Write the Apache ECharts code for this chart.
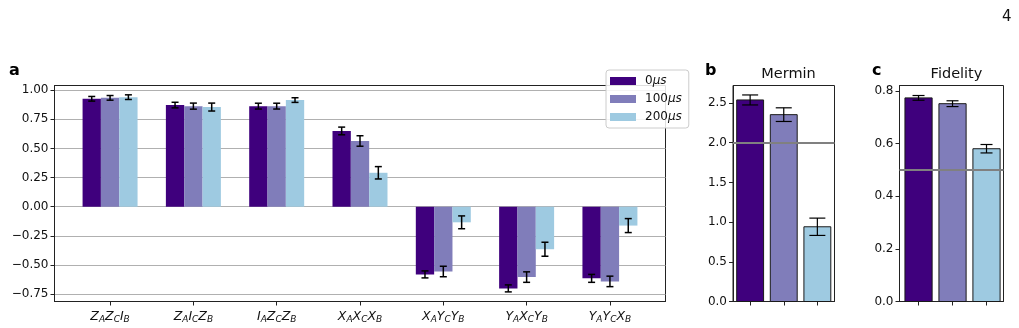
<!DOCTYPE html>
<html>
<head>
<meta charset="utf-8">
<script src="https://cdn.jsdelivr.net/npm/echarts@6/dist/echarts.min.js"></script>
<style>
  html, body { margin: 0; padding: 0; background: #fff; }
  #chart { width: 1019px; height: 328px; }
</style>
</head>
<body>
<div id="chart"></div>
<script>
// correlators, panel a
var correlators = ['Z_A Z_C I_B', 'Z_A I_C Z_B', 'I_A Z_C Z_B', 'X_A X_C X_B', 'X_A Y_C Y_B', 'Y_A X_C Y_B', 'Y_A Y_C X_B'];
var delays = ['0μs', '100μs', '200μs'];
var corr0 = [0.926, 0.872, 0.863, 0.650, -0.581, -0.701, -0.615];
var corr100 = [0.934, 0.863, 0.863, 0.564, -0.556, -0.604, -0.641];
var corr200 = [0.940, 0.855, 0.915, 0.291, -0.134, -0.365, -0.162];
var err0 = [0.020, 0.024, 0.025, 0.033, 0.030, 0.030, 0.034];
var err100 = [0.020, 0.026, 0.025, 0.045, 0.045, 0.045, 0.045];
var err200 = [0.020, 0.034, 0.020, 0.053, 0.055, 0.060, 0.060];
var aTicks = [-0.75, -0.5, -0.25, 0, 0.25, 0.5, 0.75, 1.0];

// panel b, c
var mermin = [2.538, 2.353, 0.941];
var merminErr = [0.063, 0.086, 0.109];
var merminBound = 2.0;
var merminTicks = [0, 0.5, 1.0, 1.5, 2.0, 2.5];
var fidelity = [0.773, 0.751, 0.580];
var fidelityErr = [0.009, 0.011, 0.016];
var fidelityBound = 0.5;
var fidelityTicks = [0, 0.2, 0.4, 0.6, 0.8];

var colors = ['#3f007d', '#807dba', '#9ecae1'];
var FONT = 'DejaVu Sans';

function richLabel(txt) {
    return txt.split(' ').map(function (p) {
        var t = p.split('_');
        return '{v|' + t[0] + '}{s|' + t[1] + '}';
    }).join('');
}

function fmt(dec) {
    return function (v) {
        var s = Math.abs(v).toFixed(dec);
        return v < -1e-9 ? '\u2212' + s : s;
    };
}

function barRender(offset, width, cap, lw, edge) {
    return function (params, api) {
        var i = api.value(0);
        var x = i + offset, v = api.value(1), e = api.value(2);
        var p0 = api.coord([x - width / 2, v]);
        var p1 = api.coord([x + width / 2, 0]);
        var hi = api.coord([x, v + e]);
        var lo = api.coord([x, v - e]);
        var fill = edge ? colors[i] : api.visual('color');
        return {
            type: 'group',
            children: [
                { type: 'rect', shape: { x: p0[0], y: Math.min(p0[1], p1[1]), width: p1[0] - p0[0], height: Math.abs(p1[1] - p0[1]) },
                  style: { fill: fill, stroke: edge ? '#1a1a1a' : null, lineWidth: edge ? 1 : 0 } },
                { type: 'line', shape: { x1: hi[0], y1: hi[1], x2: lo[0], y2: lo[1] }, style: { stroke: '#000', lineWidth: lw } },
                { type: 'line', shape: { x1: hi[0] - cap / 2, y1: hi[1], x2: hi[0] + cap / 2, y2: hi[1] }, style: { stroke: '#000', lineWidth: lw } },
                { type: 'line', shape: { x1: lo[0] - cap / 2, y1: lo[1], x2: lo[0] + cap / 2, y2: lo[1] }, style: { stroke: '#000', lineWidth: lw } }
            ]
        };
    };
}

var chart = echarts.init(document.getElementById('chart'), null, { renderer: 'canvas' });

var axisText = { color: '#111', fontFamily: FONT, fontSize: 12 };
var frame = { show: true, borderColor: '#222', borderWidth: 1, backgroundColor: 'transparent' };

function yAxisFor(idx, min, max, ticks, dec, grid) {
    return {
        type: 'value', gridIndex: idx, min: min, max: max,
        axisLine: { show: true, onZero: false, lineStyle: { color: '#222' } },
        axisTick: { show: true, length: 4, lineStyle: { color: '#222' }, customValues: ticks },
        axisLabel: Object.assign({ margin: 6, formatter: fmt(dec), customValues: ticks }, axisText),
        splitLine: { show: grid, lineStyle: { color: '#b0b0b0', width: 1 } }
    };
}

function xAxisFor(idx, min, max, ticks, labels) {
    return {
        type: 'value', gridIndex: idx, min: min, max: max,
        axisLine: { show: true, onZero: false, lineStyle: { color: '#222' } },
        axisTick: { show: true, length: 4, lineStyle: { color: '#222' }, customValues: ticks },
        axisLabel: labels ? {
            show: true, margin: 7, customValues: ticks,
            formatter: function (v) { return richLabel(correlators[Math.round(v)]); },
            rich: {
                v: { fontFamily: FONT, fontStyle: 'italic', fontSize: 12.5, color: '#111' },
                s: { fontFamily: FONT, fontStyle: 'italic', fontSize: 9, color: '#111', padding: [7, 0, 0, 0] }
            }
        } : { show: false },
        splitLine: { show: false }
    };
}

var corrSeries = [[corr0, err0], [corr100, err100], [corr200, err200]].map(function (d, k) {
    return {
        type: 'custom', name: delays[k], xAxisIndex: 0, yAxisIndex: 0,
        itemStyle: { color: colors[k] },
        renderItem: barRender((k - 1) * 0.22, 0.22, 7, 1.5, false),
        data: d[0].map(function (v, i) { return [i, v, d[1][i]]; }),
        z: 2
    };
});

var option = {
    animation: false,
    backgroundColor: '#fff',
    title: [
        { text: '4', left: 997, top: 5, textStyle: { fontFamily: FONT, fontSize: 15, fontWeight: 'normal', color: '#111' } },
        { text: 'a', left: 4, top: 58, textStyle: { fontFamily: FONT, fontSize: 16, fontWeight: 'bold', color: '#000' } },
        { text: 'b', left: 700, top: 58, textStyle: { fontFamily: FONT, fontSize: 16, fontWeight: 'bold', color: '#000' } },
        { text: 'c', left: 867, top: 58, textStyle: { fontFamily: FONT, fontSize: 16, fontWeight: 'bold', color: '#000' } },
        { text: 'Mermin', left: 783.5, textAlign: 'center', top: 62, textStyle: { fontFamily: FONT, fontSize: 14.5, fontWeight: 'normal', color: '#111' } },
        { text: 'Fidelity', left: 951.5, textAlign: 'center', top: 62, textStyle: { fontFamily: FONT, fontSize: 14.5, fontWeight: 'normal', color: '#111' } }
    ],
    legend: {
        orient: 'vertical', left: 606, top: 70,
        data: delays.map(function (n) { return { name: n, icon: 'rect' }; }),
        itemWidth: 26, itemHeight: 8, itemGap: 6,
        padding: [5, 7, 5, 4],
        backgroundColor: 'rgba(255,255,255,0.85)', borderColor: '#cccccc', borderWidth: 1, borderRadius: 3,
        formatter: function (n) { return '{n|' + n.replace('μs', '') + '}{m|μs}'; },
        textStyle: {
            padding: [0, 0, 0, 4],
            rich: {
                n: { fontFamily: FONT, fontSize: 12, color: '#111' },
                m: { fontFamily: FONT, fontSize: 12, fontStyle: 'italic', color: '#111' }
            }
        },
        z: 10
    },
    grid: [
        Object.assign({ left: 54.5, top: 85.5, width: 611, height: 216 }, frame),
        Object.assign({ left: 733, top: 85.5, width: 101.5, height: 216 }, frame),
        Object.assign({ left: 899.5, top: 85.5, width: 104, height: 216 }, frame)
    ],
    xAxis: [
        xAxisFor(0, -0.667, 6.667, [0, 1, 2, 3, 4, 5, 6], true),
        xAxisFor(1, -0.51, 2.51, [0, 1, 2], false),
        xAxisFor(2, -0.56, 2.5, [0, 1, 2], false)
    ],
    yAxis: [
        yAxisFor(0, -0.8135, 1.04, aTicks, 2, true),
        yAxisFor(1, 0, 2.72, merminTicks, 1, false),
        yAxisFor(2, 0, 0.82, fidelityTicks, 1, false)
    ],
    series: corrSeries.concat([
        {
            type: 'custom', name: 'Mermin', xAxisIndex: 1, yAxisIndex: 1,
            renderItem: barRender(0, 0.8, 16, 1.2, true),
            data: mermin.map(function (v, i) { return [i, v, merminErr[i]]; }),
            markLine: { silent: true, symbol: 'none', label: { show: false },
                lineStyle: { color: '#808080', width: 2, type: 'solid' }, data: [{ yAxis: merminBound }] }
        },
        {
            type: 'custom', name: 'Fidelity', xAxisIndex: 2, yAxisIndex: 2,
            renderItem: barRender(0, 0.8, 12, 1.2, true),
            data: fidelity.map(function (v, i) { return [i, v, fidelityErr[i]]; }),
            markLine: { silent: true, symbol: 'none', label: { show: false },
                lineStyle: { color: '#808080', width: 2, type: 'solid' }, data: [{ yAxis: fidelityBound }] }
        }
    ])
};

chart.setOption(option);
</script>
</body>
</html>
